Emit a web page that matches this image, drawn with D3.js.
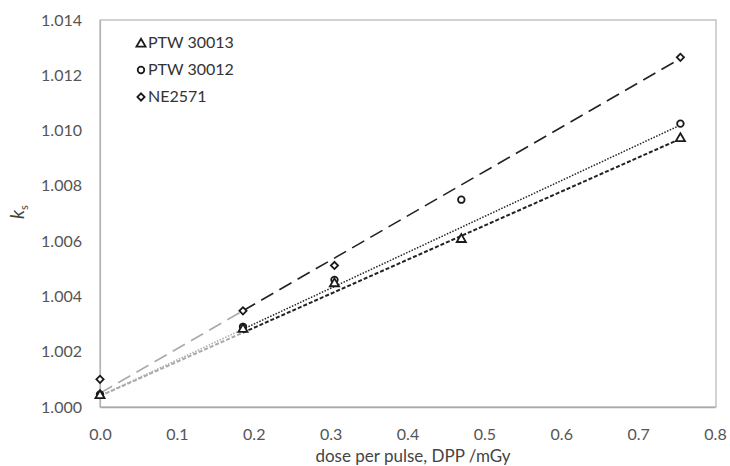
<!DOCTYPE html>
<html>
<head>
<meta charset="utf-8">
<script src="https://cdn.jsdelivr.net/npm/d3@7"></script>
<style>
  body { margin: 0; background: #fff; }
  svg text { font-family: Lato, "Open Sans", sans-serif; }
</style>
</head>
<body>
<svg id="chart" width="730" height="466"></svg>
<script>
// data
const seriesNames = ["PTW 30013", "PTW 30012", "NE2571"];
const symbols = ["triangle", "circle", "diamond"];

const dpp30013 = [0, 0.186, 0.305, 0.47, 0.755];
const ks30013 = [1.00045, 1.00285, 1.0045, 1.0061, 1.00975];

const dpp30012 = [0, 0.186, 0.305, 0.47, 0.755];
const ks30012 = [1.00045, 1.0029, 1.0046, 1.0075, 1.01025];

const dppNE = [0, 0.186, 0.305, 0.755];
const ksNE = [1.0010, 1.00348, 1.00512, 1.01265];

// trend lines: intercept, slope
const fitIntercept = [1.0004, 1.0004, 1.0005];
const fitSlope = [0.01232, 0.01298, 0.01603];
const fitRange = [0, 0.186, 0.755];

const xTicks = [0, 0.1, 0.2, 0.3, 0.4, 0.5, 0.6, 0.7, 0.8];
const yTicks = [1.000, 1.002, 1.004, 1.006, 1.008, 1.010, 1.012, 1.014];

(function () {
const svg = d3.select("#chart");
const pLeft = 100, pRight = 715, pTop = 20, pBottom = 407;

const x = d3.scaleLinear().domain([0, 0.8]).range([pLeft, pRight]);
const y = d3.scaleLinear().domain([1.000, 1.014]).range([pBottom, pTop]);

// plot frame
svg.append("rect")
  .attr("x", pLeft).attr("y", pTop)
  .attr("width", pRight - pLeft + 1).attr("height", pBottom - pTop)
  .attr("fill", "none").attr("stroke", "#b4b4b4").attr("stroke-width", 1.2);

// axes
const xAxis = svg.append("g")
  .attr("transform", `translate(0,${pBottom})`)
  .call(d3.axisBottom(x).tickValues(xTicks).tickFormat(d3.format(".1f")).tickSize(0).tickPadding(22));
xAxis.select(".domain").attr("stroke", "#a8a8a8").attr("stroke-width", 1.3);
xAxis.selectAll("text").attr("font-size", 16).attr("fill", "#555");

const yAxis = svg.append("g")
  .attr("transform", `translate(${pLeft},0)`)
  .call(d3.axisLeft(y).tickValues(yTicks).tickFormat(d3.format(".3f")).tickSize(0).tickPadding(18));
yAxis.select(".domain").attr("stroke", "#b4b4b4").attr("stroke-width", 1.2);
yAxis.selectAll("text").attr("font-size", 16).attr("fill", "#555");

svg.append("text")
  .attr("x", 413).attr("y", 462)
  .attr("text-anchor", "middle")
  .attr("font-size", 17).attr("fill", "#444")
  .text("dose per pulse, DPP /mGy");

const yt = svg.append("text")
  .attr("transform", "translate(24,212) rotate(-90)")
  .attr("text-anchor", "middle")
  .attr("font-size", 19).attr("fill", "#444");
yt.append("tspan").attr("font-style", "italic").text("k");
yt.append("tspan").attr("font-size", 11).attr("dy", 4).text("s");

// trend lines
const dashes = ["4,2", "1.5,1.5", "14,7"];
const widths = [2, 1.5, 1.6];
const line = d3.line().x(d => x(d[0])).y(d => y(d[1]));
seriesNames.forEach((name, i) => {
  const f = v => fitIntercept[i] + fitSlope[i] * v;
  // light first segment, dark afterwards
  svg.append("path")
    .datum([[fitRange[0], f(fitRange[0])], [fitRange[1], f(fitRange[1])]])
    .attr("d", line)
    .attr("fill", "none").attr("stroke", "#aaa")
    .attr("stroke-width", widths[i]).attr("stroke-dasharray", dashes[i]);
  svg.append("path")
    .datum([[fitRange[1], f(fitRange[1])], [fitRange[2], f(fitRange[2])]])
    .attr("d", line)
    .attr("fill", "none").attr("stroke", "#222")
    .attr("stroke-width", widths[i]).attr("stroke-dasharray", dashes[i]);
});

// markers
const symType = { triangle: d3.symbolTriangle, circle: d3.symbolCircle, diamond: d3.symbolSquare };
const symSize = { triangle: 36, circle: 34, diamond: 26 };
function marker(g, kind, px, py) {
  g.append("path")
    .attr("d", d3.symbol().type(symType[kind]).size(symSize[kind]))
    .attr("transform", `translate(${px},${py + (kind === "triangle" ? 1 : 0)})` + (kind === "diamond" ? " rotate(45)" : ""))
    .attr("fill", "#fff").attr("stroke", "#1a1a1a").attr("stroke-width", 1.8);
}

const xs = [dpp30013, dpp30012, dppNE];
const ys = [ks30013, ks30012, ksNE];
const pts = svg.append("g");
[2, 1, 0].forEach(i => {
  xs[i].forEach((v, j) => marker(pts, symbols[i], x(v), y(ys[i][j])));
});

// legend
const legend = svg.append("g");
seriesNames.forEach((name, i) => {
  const ly = 43 + i * 27;
  marker(legend, symbols[i], 141, ly);
  legend.append("text")
    .attr("x", 148).attr("y", ly + 5)
    .attr("font-size", 16).attr("fill", "#333")
    .text(name);
});
})();
</script>
</body>
</html>
